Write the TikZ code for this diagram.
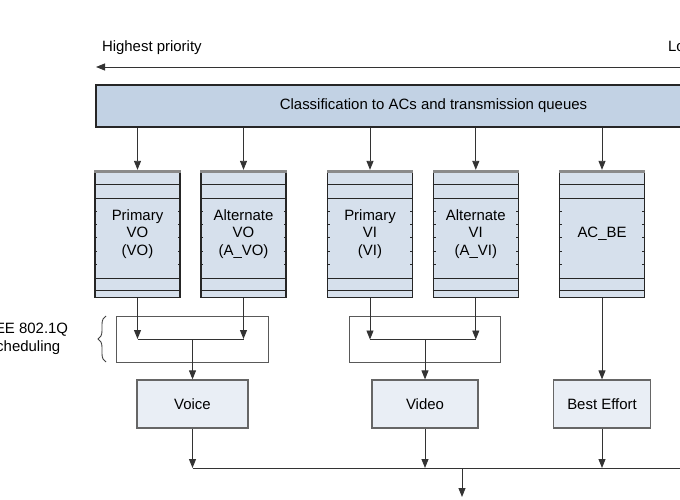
\documentclass[tikz,border=0pt]{standalone}
\usepackage{fontspec}
\setmainfont{Liberation Sans}
\usetikzlibrary{arrows.meta,calc,decorations.pathreplacing}

\definecolor{clsblue}{HTML}{C2D2E4}
\definecolor{queueblue}{HTML}{D6E0EC}
\definecolor{outblue}{HTML}{E9EEF5}
\definecolor{bandgrey}{HTML}{8A8A8A}

\begin{document}
\begin{tikzpicture}[
    x=1bp, y=-1bp,
    font=\fontsize{15}{17.5}\selectfont,
    classbox/.style={rectangle, draw=black!85, line width=2bp, fill=clsblue, minimum width=675bp, minimum height=42bp, inner sep=0pt},
    queue/.style={rectangle, draw=black!85, line width=1.3bp, fill=queueblue, minimum width=85bp, minimum height=127bp, inner sep=0pt, align=center},
    schedbox/.style={rectangle, draw=black!65, line width=0.9bp, minimum height=46bp, inner sep=0pt},
    outbox/.style={rectangle, draw=black!60, line width=1.2bp, fill=outblue, minimum height=48bp, inner sep=0pt},
    qline/.style={draw=black!85, line width=1.1bp},
    arr/.style={-{Triangle[length=9bp,width=7bp]}, draw=black!80, line width=0.9bp},
    link/.style={draw=black!80, line width=0.9bp}
]
\useasboundingbox (0,0) rectangle (680,500);
\clip (0,0) rectangle (680,500);

% Priority arrow
\node[anchor=west] (hiprio) at (98.5,47.5) {Highest priority};
\node[anchor=west] (loprio) at (664.5,47.5) {Lowest priority};
\coordinate (prioL) at (96,67);
\coordinate (prioR) at (771,67);
\draw[arr] (prioR) -- (prioL);

% Classification
\node[classbox] (cls) at (433.5,106) {Classification to ACs and transmission queues};

% Queues
\node[queue] (pvo) at (137.5,234) {Primary\\VO\\(VO)};
\node[queue] (avo) at (243.5,234) {Alternate\\VO\\(A\_VO)};
\node[queue] (pvi) at (370,234) {Primary\\VI\\(VI)};
\node[queue] (avi) at (475.8,234) {Alternate\\VI\\(A\_VI)};
\node[queue] (acbe) at (602,234) {AC\_BE};

% Queue slots and ticks
\foreach \q in {pvo,avo,pvi,avi,acbe} {
    \fill[bandgrey] (\q.north west) rectangle ($(\q.north east)+(0,3)$);
    \draw[qline] ($(\q.north west)+(0,15)$) -- ($(\q.north east)+(0,15)$);
    \draw[qline] ($(\q.north west)+(0,28.5)$) -- ($(\q.north east)+(0,28.5)$);
    \draw[qline] ($(\q.south west)+(0,-20)$) -- ($(\q.south east)+(0,-20)$);
    \draw[qline] ($(\q.south west)+(0,-8)$) -- ($(\q.south east)+(0,-8)$);
    \foreach \t in {41.4,54.7,68,81.3,94.6} {
        \draw[qline] ($(\q.north west)+(0,\t)$) -- +(3,0);
        \draw[qline] ($(\q.north east)+(0,\t)$) -- +(-3,0);
    }
    \draw[arr] (\q.north |- cls.south) -- (\q.north);
}

% 802.1Q scheduling
\node[schedbox, minimum width=152bp] (vosched) at (192,339) {};
\node[schedbox, minimum width=151bp] (visched) at (424.5,339.5) {};
\draw[decorate, decoration={brace, amplitude=8bp}, draw=black!75, line width=0.9bp] (106,362) -- (106,316);
\node[align=center] (schedlbl) at (24.5,339) {IEEE 802.1Q\\scheduling};

% Output queues
\node[outbox, minimum width=111bp] (voice) at (192.5,404) {Voice};
\node[outbox, minimum width=106bp] (video) at (425,404) {Video};
\node[outbox, minimum width=97bp] (beff) at (602,404) {Best Effort};

% Merging
\draw[arr] (pvo.south) -- (pvo.south |- vosched.center);
\draw[arr] (avo.south) -- (avo.south |- vosched.center);
\draw[link] (pvo.south |- vosched.center) -- (avo.south |- vosched.center);
\draw[arr] (voice.north |- vosched.center) -- (voice.north);
\draw[arr] (pvi.south) -- (pvi.south |- visched.center);
\draw[arr] (avi.south) -- (avi.south |- visched.center);
\draw[link] (pvi.south |- visched.center) -- (avi.south |- visched.center);
\draw[arr] (video.north |- visched.center) -- (video.north);
\draw[arr] (acbe.south) -- (beff.north);

% Output line
\coordinate (outline) at (771,468);
\coordinate (txout) at (462,497);
\draw[link] (voice.south |- outline) -- (outline);
\draw[arr] (voice.south) -- (voice.south |- outline);
\draw[arr] (video.south) -- (video.south |- outline);
\draw[arr] (beff.south) -- (beff.south |- outline);
\draw[arr] (txout |- outline) -- (txout);

\end{tikzpicture}
\end{document}
